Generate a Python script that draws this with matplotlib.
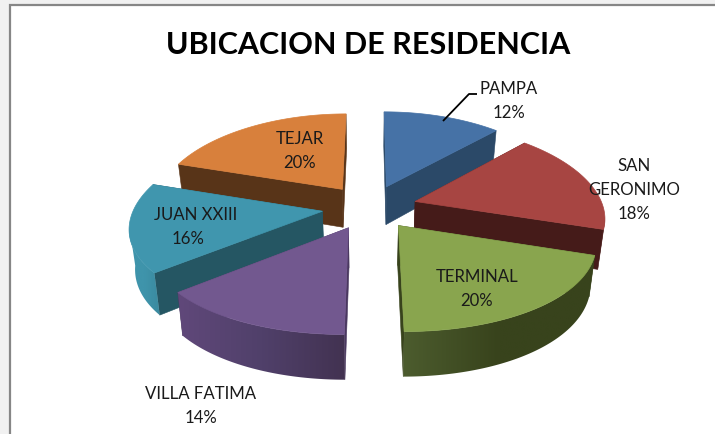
import numpy as np
import matplotlib
matplotlib.use("Agg")
import matplotlib.pyplot as plt
from matplotlib.patches import Polygon, Rectangle
from matplotlib.colors import to_rgb

# ---- data ----
categories = ["PAMPA", "SAN GERONIMO", "TERMINAL", "VILLA FATIMA", "JUAN XXIII", "TEJAR"]
values = [12, 18, 20, 14, 16, 20]
title = "UBICACION DE RESIDENCIA"

# ---- styles ----
top_colors = ["#4672A6", "#A74542", "#89A54E", "#72588F", "#4096AE", "#D8803C"]
wall_colors = ["#2B4968", "#451B19", "#38431C", "#4A3860", "#255663", "#583418"]
side_stops = [
    ["#2B4968", "#2B4968", "#2B4968"],
    ["#451B19", "#4E201E", "#642A28"],
    ["#4C5C2E", "#38431C", "#38431C"],
    ["#60487A", "#50406A", "#423251"],
    ["#3F94AB", "#3F94AB", "#3A8A9F"],
    ["#583418", "#583418", "#583418"],
]
draw_order = [5, 0, 4, 1, 3, 2]

# pie projection parameters (pixels)
CX, VY, Y0 = 369.5, -530.0, 207.0
A, CXP, C, E = 188.0, 0.16, 0.12, 0.253

def proj(X, Y):
    return CX + A * X / (1 + CXP * Y), VY + (Y0 - VY) / (1 + C * Y)

def lower(sx, sy):
    return CX + (sx - CX) * 0.975, sy * 1.05 + 28.5

fig = plt.figure(figsize=(7.15, 4.34), dpi=100)
ax = fig.add_axes([0, 0, 1, 1])
ax.set_xlim(0, 715)
ax.set_ylim(434, 0)
ax.axis("off")

# frame of the worksheet chart
ax.add_patch(Rectangle((0, 0), 715, 434, fc="#F1F1F1", ec="none", zorder=0))
ax.add_patch(Rectangle((10, 5), 720, 440, fc="white", ec="#868686", lw=1.6, zorder=0.5))

frac = np.array(values, dtype=float) / sum(values)
edges = np.concatenate([[0], np.cumsum(frac)]) * 2 * np.pi

# angles of the silhouette of the pie: only the arc between them faces the viewer
tt = np.linspace(0, 2 * np.pi, 1441)
circle_x = proj(np.sin(tt), np.cos(tt))[0]
t_right, t_left = tt[np.argmax(circle_x)], tt[np.argmin(circle_x)]

z = 1
for i in draw_order:
    t0, t1 = edges[i], edges[i + 1]
    m = (t0 + t1) / 2
    ax0, ay0 = E * np.sin(m), E * np.cos(m)
    t = np.linspace(t0, t1, 80)
    sx, sy = proj(ax0 + np.sin(t), ay0 + np.cos(t))
    apx, apy = proj(ax0, ay0)
    bx, by = lower(sx, sy)
    bax, bay = lower(apx, apy)
    # flat cut walls
    for j in (0, -1):
        ax.add_patch(Polygon([(apx, apy), (sx[j], sy[j]), (bx[j], by[j]), (bax, bay)],
                             fc=wall_colors[i], ec=wall_colors[i], lw=0.4, zorder=z))
    # outer curved side: left-to-right gradient clipped to the side shape
    lo, hi = max(t0, t_right), min(t1, t_left)
    if hi > lo:
        tf = np.linspace(lo, hi, 80)
        fx, fy = proj(ax0 + np.sin(tf), ay0 + np.cos(tf))
        gx, gy = lower(fx, fy)
        side = np.column_stack([np.r_[fx, gx[::-1]], np.r_[fy, gy[::-1]]])
        stops = np.array([to_rgb(c) for c in side_stops[i]])
        u = np.linspace(0, 1, 200)
        grad = np.stack([np.interp(u, [0, 0.5, 1], stops[:, ch]) for ch in range(3)], axis=-1)[None, :, :]
        im = ax.imshow(grad, extent=(side[:, 0].min(), side[:, 0].max(), side[:, 1].max(), side[:, 1].min()),
                       aspect="auto", zorder=z + 0.1, interpolation="bilinear")
        im.set_clip_path(Polygon(side, transform=ax.transData))
    # top face
    ax.add_patch(Polygon(np.column_stack([np.r_[apx, sx], np.r_[apy, sy]]),
                         fc=top_colors[i], ec=top_colors[i], lw=0.5, zorder=z + 0.2))
    z += 1
ax.set_xlim(0, 715)
ax.set_ylim(434, 0)

# title
ax.text(368.5, 54, title, ha="center", va="baseline", fontsize=22,
        fontweight="bold", family="Lato", color="black", zorder=20)

# labels: name lines and percent
pct = [f"{v}%" for v in values]
name_lines = [["PAMPA"], ["SAN", "GERONIMO"], ["TERMINAL"], ["VILLA FATIMA"], ["JUAN XXIII"], ["TEJAR"]]
name_xy = [(509, 94), (634, 171), (477, 282), (201, 399), (196, 220), (300, 144)]
pct_x = [509, 634, 477, 201, 188, 300]
LINE = 24
for i in range(len(values)):
    x, y = name_xy[i]
    for k, s in enumerate(name_lines[i]):
        ax.text(x, y + k * LINE, s, ha="center", va="baseline", fontsize=12.1,
                family="Lato", color="#1A1A1A", zorder=21)
    ax.text(pct_x[i], y + len(name_lines[i]) * LINE, pct[i], ha="center", va="baseline",
            fontsize=12.1, family="Lato", color="#1A1A1A", zorder=21)

# leader line for PAMPA
ax.plot([443, 469, 477], [121, 94, 94], color="black", lw=1.3, zorder=20,
        solid_capstyle="butt")

fig.savefig("out.png", dpi=100)
